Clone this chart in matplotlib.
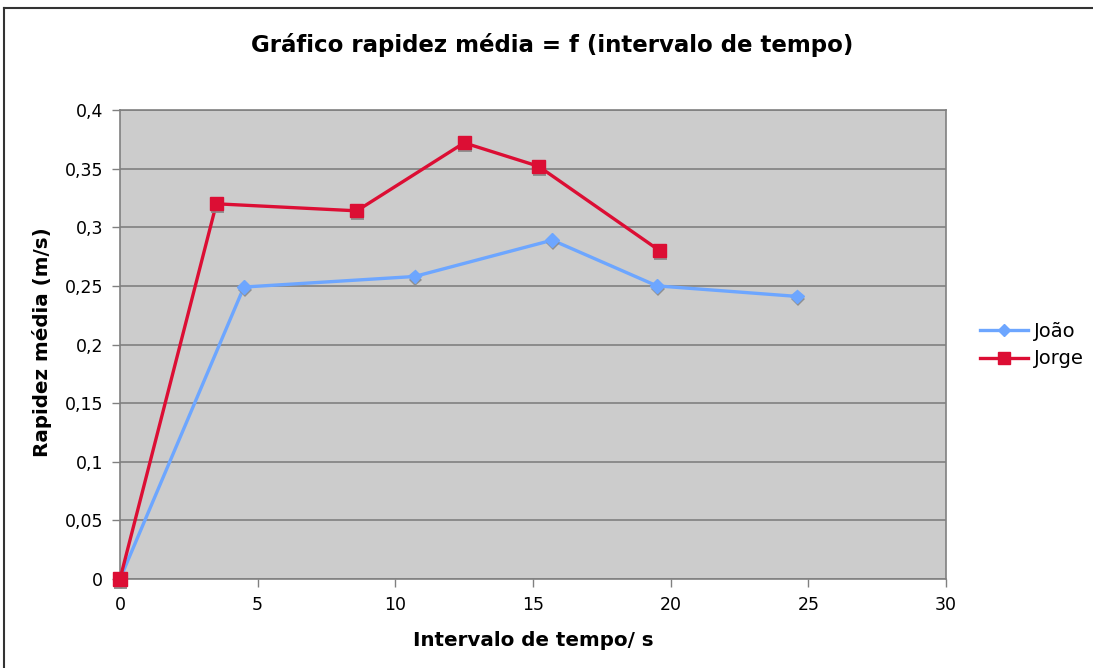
import numpy as np
import matplotlib
matplotlib.use('Agg')
import matplotlib.pyplot as plt
import matplotlib.patheffects as pe
from matplotlib.lines import Line2D

# data
joao_t = [0, 4.5, 10.7, 15.7, 19.5, 24.6]
joao_v = [0, 0.249, 0.258, 0.289, 0.250, 0.241]
jorge_t = [0, 3.5, 8.6, 12.5, 15.2, 19.6]
jorge_v = [0, 0.320, 0.314, 0.372, 0.352, 0.280]

x_ticks = [0, 5, 10, 15, 20, 25, 30]
y_ticks = [0, 0.05, 0.1, 0.15, 0.2, 0.25, 0.3, 0.35, 0.4]
y_labels = ['0', '0,05', '0,1', '0,15', '0,2', '0,25', '0,3', '0,35', '0,4']

BLUE = '#6DA6FF'
RED = '#DC0E34'
GRAY = '#808080'

fig = plt.figure(figsize=(10.93, 6.68), dpi=100)
fig.patch.set_facecolor('white')

# outer frame (only top and left visible in the crop)
fig.add_artist(Line2D([4/1093, 1.0], [1 - 8/668, 1 - 8/668], color='#333333', lw=1.5,
                      transform=fig.transFigure))
fig.add_artist(Line2D([4/1093, 4/1093], [0.0, 1 - 8/668], color='#333333', lw=1.5,
                      transform=fig.transFigure))

ax = fig.add_axes([120/1093, 1 - 579/668, 826/1093, 469/668])
ax.set_facecolor('#CCCCCC')
ax.set_xlim(0, 30)
ax.set_ylim(0, 0.4)
ax.set_xticks(x_ticks)
ax.set_xticklabels([str(t) for t in x_ticks], fontsize=12.5)
ax.set_yticks(y_ticks)
ax.set_yticklabels(y_labels, fontsize=12.5)
ax.grid(axis='y', color=GRAY, lw=1.2)
ax.set_axisbelow(True)
for s in ax.spines.values():
    s.set_color(GRAY)
    s.set_linewidth(1.2)
ax.tick_params(direction='out', length=6, color=GRAY, width=1, pad=6)

shadow = [pe.SimplePatchShadow(offset=(0.6, -2.2), shadow_rgbFace='#8a8a8a', alpha=0.9), pe.Normal()]

ax.plot(joao_t, joao_v, color=BLUE, lw=2.4, clip_on=False, zorder=3)
ax.plot(joao_t, joao_v, ls='none', marker='D', ms=7, color=BLUE, mec=BLUE,
        clip_on=False, zorder=4, path_effects=shadow)
ax.plot(jorge_t, jorge_v, color=RED, lw=2.4, clip_on=False, zorder=5)
ax.plot(jorge_t, jorge_v, ls='none', marker='s', ms=9.5, color=RED, mec=RED,
        clip_on=False, zorder=6, path_effects=shadow)

fig.text(0.505, 1 - 45/668, 'Gráfico rapidez média = f (intervalo de tempo)',
         ha='center', va='center', fontsize=16.5, fontweight='bold')
fig.text(533/1093, 1 - 640/668, 'Intervalo de tempo/ s',
         ha='center', va='center', fontsize=14.3, fontweight='bold')
fig.text(42/1093, 1 - 342/668, 'Rapidez média (m/s)', rotation=90,
         ha='center', va='center', fontsize=14.3, fontweight='bold')

handles = [Line2D([], [], color=BLUE, lw=2.4, marker='D', ms=6),
           Line2D([], [], color=RED, lw=2.4, marker='s', ms=8)]
fig.legend(handles, ['João', 'Jorge'], loc='center left',
           bbox_to_anchor=(962/1093, 1 - 345/668), frameon=False, fontsize=14,
           handlelength=2.5, labelspacing=0.45, handletextpad=0.3)

fig.savefig('out.png', dpi=100)
